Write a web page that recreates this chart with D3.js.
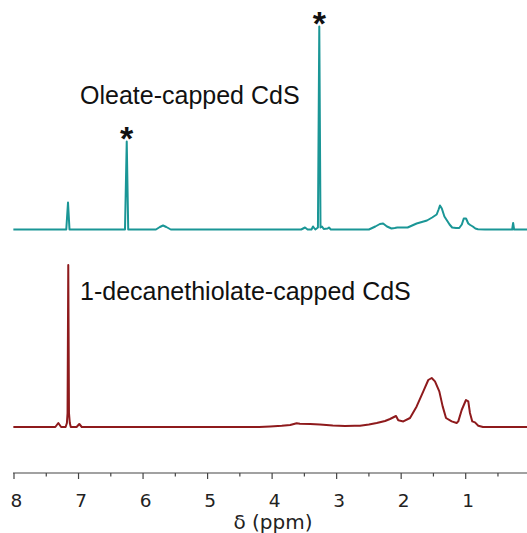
<!DOCTYPE html>
<html><head><meta charset="utf-8">
<script src="https://cdn.jsdelivr.net/npm/d3@7"></script>
<style>body{margin:0;background:#fff}svg{display:block}</style>
</head><body><div id="chart"></div>
<script>
// x-axis ticks (ppm)
const majorTicks = [8, 7, 6, 5, 4, 3, 2, 1];
const minorTicks = [7.5, 6.5, 5.5, 4.5, 3.5, 2.5, 1.5, 0.5];
const axisTitle = "δ (ppm)";

// Oleate-capped CdS spectrum: [ppm, intensity]
const oleatePpm = [8.01, 7.19, 7.163, 7.14, 6.28, 6.253, 6.23, 5.80, 5.74, 5.69, 5.64, 5.57, 3.55, 3.49, 3.45, 3.39, 3.366, 3.33, 3.29, 3.269, 3.25, 3.227, 3.20, 3.14, 3.119, 3.09, 2.50, 2.40, 2.33, 2.28, 2.22, 2.15, 2.10, 2.06, 1.90, 1.83, 1.76, 1.68, 1.60, 1.52, 1.45, 1.42, 1.399, 1.37, 1.33, 1.29, 1.25, 1.21, 1.15, 1.10, 1.06, 1.03, 0.995, 0.96, 0.93, 0.89, 0.85, 0.81, 0.70, 0.28, 0.265, 0.25, 0.05];
const oleateInt = [0, 0, 27, 0, 0, 88, 0, 0, 2.5, 4, 2.5, 0, 0, 2, 0, 0, 3, 0, 2, 203, 2, 3, 0.5, 1, 2, 0, 0, 3, 5.5, 6, 3, 1, 1.5, 2, 2, 4, 6, 7.5, 9, 12, 15, 20, 24, 21, 13, 9, 5, 2, 1.5, 1.5, 5, 11, 11, 6, 4.5, 3, 1, 0.3, 0, 0, 6.5, 0, 0];

// 1-decanethiolate-capped CdS spectrum: [ppm, intensity]
const thiolPpm = [8.01, 7.36, 7.313, 7.27, 7.20, 7.18, 7.17, 7.159, 7.148, 7.135, 7.12, 7.03, 6.988, 6.95, 4.20, 4.03, 3.85, 3.72, 3.62, 3.57, 3.41, 3.26, 3.06, 2.87, 2.72, 2.638, 2.50, 2.379, 2.25, 2.173, 2.080, 2.045, 1.967, 1.863, 1.760, 1.657, 1.580, 1.527, 1.476, 1.409, 1.357, 1.305, 1.217, 1.140, 1.115, 1.062, 0.996, 0.960, 0.934, 0.898, 0.856, 0.805, 0.732, 0.05];
const thiolInt = [0, 0, 4, 0, 0, 4, 14, 162, 14, 4, 0, 0, 3, 0, 0, 0.5, 1.2, 2, 3.8, 3.2, 3, 2.5, 1.5, 1, 1.3, 1.3, 2.5, 4, 6, 8, 11, 6.7, 5.6, 9, 20.6, 35.6, 47, 49, 45.6, 35.6, 20.6, 9, 5.6, 4, 5.6, 17, 27, 25.6, 14, 5.6, 4.6, 1.3, 0, 0];

const labels = ["Oleate-capped CdS", "1-decanethiolate-capped CdS"];
const starPeaks = [6.253, 3.269];
const starHeights = [88, 203];

const W = 527, H = 533;
const teal = "#1a9696", red = "#8e1a1c";
const svg = d3.select("#chart").append("svg").attr("width", W).attr("height", H);

const x = d3.scaleLinear().domain([8, 0.05]).range([14, 527]);
const yTop = d3.scaleLinear().domain([0, 210]).range([229.5, 19.5]);
const yBot = d3.scaleLinear().domain([0, 170]).range([427, 257]);

const oleate = oleatePpm.map((p, i) => [p, oleateInt[i]]);
const thiol = thiolPpm.map((p, i) => [p, thiolInt[i]]);

const lineTop = d3.line().x(d => x(d[0])).y(d => yTop(d[1]));
const lineBot = d3.line().x(d => x(d[0])).y(d => yBot(d[1]));

svg.append("path").attr("d", lineTop(oleate)).attr("fill", "none")
  .attr("stroke", teal).attr("stroke-width", 2).attr("stroke-linejoin", "round");
svg.append("path").attr("d", lineBot(thiol)).attr("fill", "none")
  .attr("stroke", red).attr("stroke-width", 2).attr("stroke-linejoin", "round");

// asterisks
svg.selectAll("text.star").data(starPeaks).enter().append("text")
  .attr("class", "star")
  .attr("x", d => x(d)).attr("y", (d, i) => yTop(starHeights[i]) + 8)
  .attr("text-anchor", "middle")
  .attr("font-family", "Liberation Sans, Arial, sans-serif")
  .attr("font-weight", "bold").attr("font-size", 34).attr("fill", "#111")
  .text("*");

// labels
svg.append("text").attr("x", 80).attr("y", 103.5)
  .attr("font-family", "Liberation Sans, Arial, sans-serif").attr("font-size", 25)
  .attr("fill", "#111").text(labels[0]);
svg.append("text").attr("x", 80).attr("y", 300)
  .attr("font-family", "Liberation Sans, Arial, sans-serif").attr("font-size", 25)
  .attr("fill", "#111").text(labels[1]);

// axis
const axisY = 473;
const g = svg.append("g");
g.append("line").attr("x1", 13).attr("x2", 527).attr("y1", axisY).attr("y2", axisY)
  .attr("stroke", "#444").attr("stroke-width", 1.2);
g.selectAll("line.maj").data(majorTicks).enter().append("line")
  .attr("x1", d => x(d)).attr("x2", d => x(d)).attr("y1", axisY).attr("y2", axisY + 6)
  .attr("stroke", "#444").attr("stroke-width", 1.2);
g.selectAll("line.min").data(minorTicks).enter().append("line")
  .attr("x1", d => x(d)).attr("x2", d => x(d)).attr("y1", axisY).attr("y2", axisY + 3.5)
  .attr("stroke", "#444").attr("stroke-width", 1.2);
g.selectAll("text.tl").data(majorTicks).enter().append("text")
  .attr("x", d => x(d) + 2.5).attr("y", 507)
  .attr("text-anchor", "middle").attr("font-family", "DejaVu Sans, Verdana, sans-serif")
  .attr("font-size", 18.5).attr("fill", "#222").text(d => d);
svg.append("text").attr("x", 273).attr("y", 528.5).attr("text-anchor", "middle")
  .attr("font-family", "DejaVu Sans, Verdana, sans-serif").attr("font-size", 20)
  .attr("fill", "#222").text(axisTitle);
</script></body></html>
